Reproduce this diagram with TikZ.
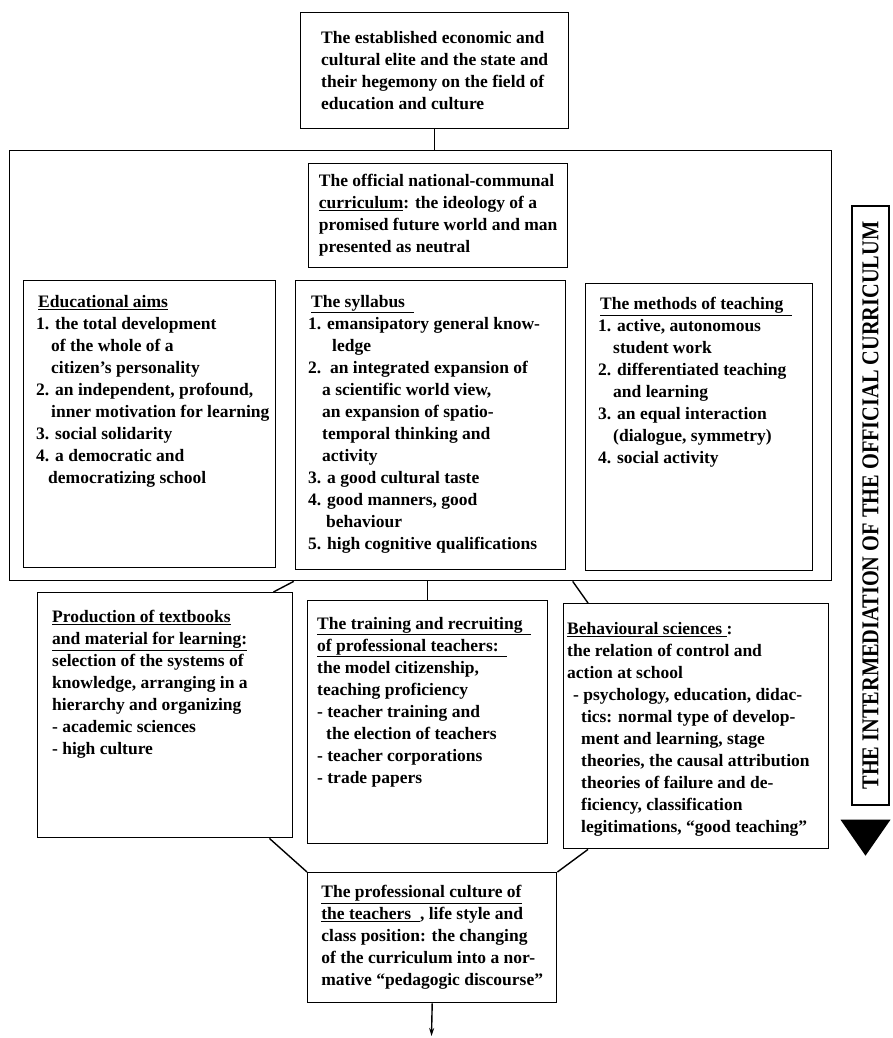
\documentclass[tikz,border=0pt]{standalone}
\usepackage{fontspec}
\usepackage{graphicx}
\setmainfont{Liberation Serif}
\usetikzlibrary{arrows.meta}
\begin{document}
\begin{tikzpicture}[x=1pt,y=-1pt,
  box/.style={draw, line width=1.4pt, inner sep=0pt, anchor=north west},
  cbox/.style={box, align=left, font=\bfseries\fontsize{17.5}{22}\selectfont},
  txt/.style={anchor=north west, inner sep=0pt, align=left,
              font=\bfseries\fontsize{17.5}{22}\selectfont},
  link/.style={line width=1.4pt}]
\useasboundingbox (0,0) rectangle (893,1038);

% top: the elite
\node[cbox, minimum width=268pt, minimum height=116pt] (elite) at (300,12)
  {The established economic and\\
   cultural elite and the state and\\
   their hegemony on the field of\\
   education and culture};

% the large frame of the official curriculum
\node[box, minimum width=822pt, minimum height=430pt] (frame) at (9,150) {};

\node[cbox, minimum width=259pt, minimum height=104pt] (official) at (308,163)
  {The official national-communal\\
   \underline{curriculum}: the ideology of a\\
   promised future world and man\\
   presented as neutral};

% three columns inside the frame
\node[box, minimum width=252pt, minimum height=287pt] (aims) at (23,280) {};
\node[txt] (aimstext) at ([shift={(13,15)}]aims.north west)
  {\hspace*{2pt}\underline{Educational aims}\\
   1. the total development\\
   \hspace*{15pt}of the whole of a\\
   \hspace*{15pt}citizen’s personality\\
   2. an independent, profound,\\
   \hspace*{15pt}inner motivation for learning\\
   3. social solidarity\\
   4. a democratic and\\
   \hspace*{12pt}democratizing school};

\node[box, minimum width=270pt, minimum height=289pt] (syll) at (295,280) {};
\node[txt] (sylltext) at ([shift={(13,15)}]syll.north west)
  {\hspace*{3pt}\underline{The syllabus\ \ }\\
   1. emansipatory general know-\\
   \hspace*{24pt}ledge\\
   2.\ \ an integrated expansion of\\
   \hspace*{14pt}a scientific world view,\\
   \hspace*{14pt}an expansion of spatio-\\
   \hspace*{14pt}temporal thinking and\\
   \hspace*{14pt}activity\\
   3. a good cultural taste\\
   4. good manners, good\\
   \hspace*{18pt}behaviour\\
   5. high cognitive qualifications};

\node[box, minimum width=227pt, minimum height=287pt] (meth) at (585,283) {};
\node[txt] (methtext) at ([shift={(13,14)}]meth.north west)
  {\hspace*{2pt}\underline{The methods of teaching\ \ }\\
   1. active, autonomous\\
   \hspace*{15pt}student work\\
   2. differentiated teaching\\
   \hspace*{15pt}and learning\\
   3. an equal interaction\\
   \hspace*{15pt}(dialogue, symmetry)\\
   4. social activity};

% the three channels of mediation
\node[box, minimum width=255pt, minimum height=245pt] (prod) at (37,592) {};
\node[txt] (prodtext) at ([shift={(15,18)}]prod.north west)
  {\underline{Production of textbooks}\\
   \underline{and material for learning:}\\
   selection of the systems of\\
   knowledge, arranging in a\\
   hierarchy and organizing\\
   - academic sciences\\
   - high culture};

\node[box, minimum width=240pt, minimum height=243pt] (train) at (307,600) {};
\node[txt] (traintext) at ([shift={(10,17)}]train.north west)
  {\underline{The training and recruiting\ \ }\\
   \underline{of professional teachers:\ \ }\\
   the model citizenship,\\
   teaching proficiency\\
   - teacher training and\\
   \hspace*{9pt}the election of teachers\\
   - teacher corporations\\
   - trade papers};

\node[box, minimum width=265pt, minimum height=245pt] (behav) at (563,603) {};
\node[txt] (behavtext) at ([shift={(4,19)}]behav.north west)
  {\underline{Behavioural sciences\ }:\\
   the relation of control and\\
   action at school\\
   \hspace*{6pt}- psychology, education, didac-\\
   \hspace*{14pt}tics: normal type of develop-\\
   \hspace*{14pt}ment and learning, stage\\
   \hspace*{14pt}theories, the causal attribution\\
   \hspace*{14pt}theories of failure and de-\\
   \hspace*{14pt}ficiency, classification\\
   \hspace*{14pt}legitimations, “good teaching”};

% the professional culture of the teachers
\node[cbox, minimum width=249pt, minimum height=130pt] (prof) at (307,872)
  {\underline{The professional culture of}\\
   \underline{the teachers\ \ }, life style and\\
   class position: the changing\\
   of the curriculum into a nor-\\
   mative “pedagogic discourse”};

% connectors
\draw[link] (elite.south) -- (elite.south |- frame.north);
\draw[link] ([xshift=-127pt]frame.south) -- ([xshift=-20pt]prod.north east);
\draw[link] (train.north) -- (train.north |- frame.south);
\draw[link] ([xshift=152pt]frame.south) -- ([xshift=25pt]behav.north west);
\draw[link] ([xshift=-24pt]prod.south east) -- (prof.north west);
\draw[link] ([xshift=25pt]behav.south west) -- (prof.north east);
\coordinate (out) at (431.5,1036);
\draw[link, -{Stealth[length=8pt,width=5pt]}] (prof.south) -- (out);

% the mediation band with its arrow
\node[draw, line width=1.4pt, rotate=90, minimum width=599pt, minimum height=37pt,
      inner sep=0pt] (band) at (870.5,505.5)
  {\resizebox{568pt}{16pt}{\bfseries THE INTERMEDIATION OF THE OFFICIAL CURRICULUM}};
\fill (band.west) ++(-30,14) -- ++(50,0) -- ++(-25,36) -- cycle;

\end{tikzpicture}
\end{document}
